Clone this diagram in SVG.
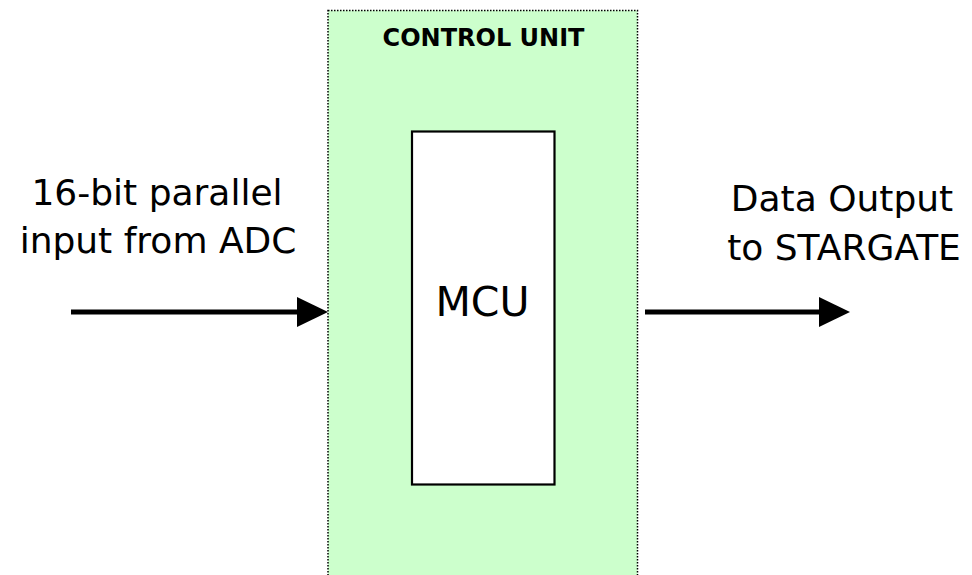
<svg xmlns="http://www.w3.org/2000/svg" width="972" height="575" viewBox="0 0 972 575">
<style>
.lbl{font-family:"DejaVu Sans","Liberation Sans",sans-serif;font-size:36px;fill:#000;text-anchor:middle}
.title{font-family:"DejaVu Sans","Liberation Sans",sans-serif;font-size:24px;font-weight:bold;fill:#000;text-anchor:middle}
.mcu{font-family:"DejaVu Sans","Liberation Sans",sans-serif;font-size:41px;fill:#000;text-anchor:middle}
.line{stroke:#000;stroke-width:5;fill:none}
.head{fill:#000}
</style>
<rect width="972" height="575" fill="#fff"/>
<g id="control-unit">
<rect x="328" y="10.5" width="309.5" height="570" fill="#CCFFCC" stroke="#000" stroke-width="1.5" stroke-dasharray="1.5 1.5"/>
<text class="title" x="483.5" y="46">CONTROL UNIT</text>
</g>
<g id="mcu">
<rect x="412" y="131.5" width="142.5" height="353" fill="#fff" stroke="#000" stroke-width="2.2"/>
<text class="mcu" x="482.5" y="316">MCU</text>
</g>
<g id="input-label">
<text class="lbl" x="157" y="205">16-bit parallel</text>
<text class="lbl" x="158" y="253">input from ADC</text>
</g>
<g id="output-label">
<text class="lbl" x="842" y="211">Data Output</text>
<text class="lbl" x="844" y="260">to STARGATE</text>
</g>
<g id="connectors">
<line class="line" x1="71" y1="312" x2="299" y2="312"/>
<polygon class="head" points="297,297 328,312 297,327"/>
<line class="line" x1="645" y1="312" x2="821" y2="312"/>
<polygon class="head" points="819,297 850,312 819,327"/>
</g>
</svg>
